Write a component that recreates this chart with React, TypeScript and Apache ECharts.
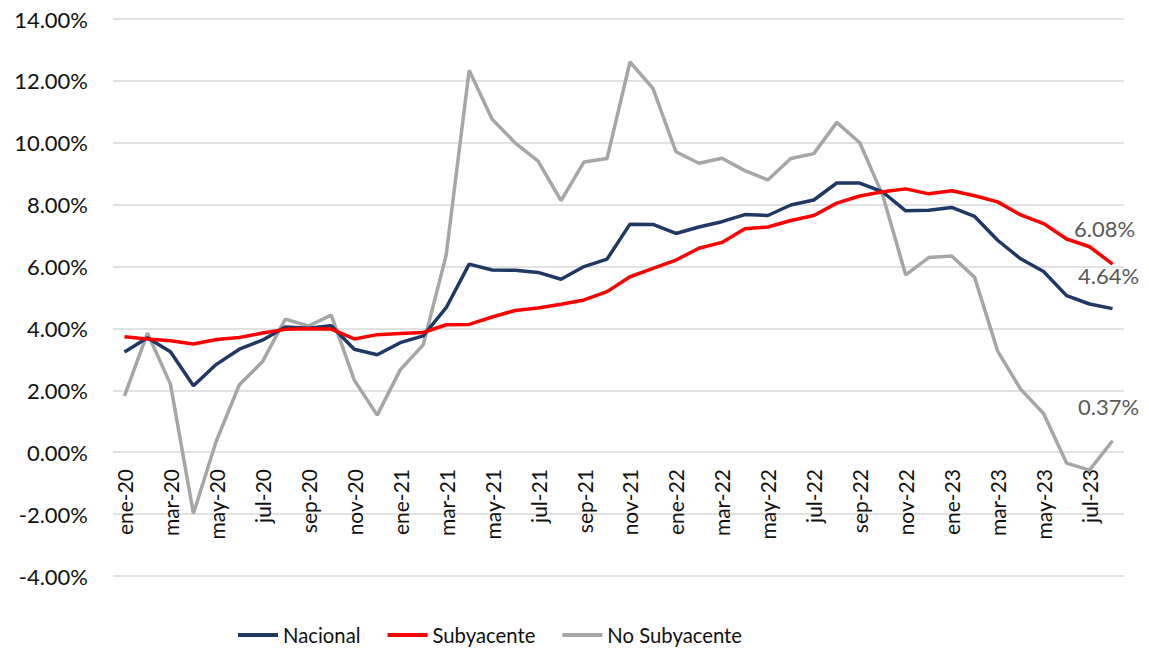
import React, { useEffect, useRef } from "react";
import * as echarts from "echarts";

const MONTHS = ["ene", "feb", "mar", "abr", "may", "jun", "jul", "ago", "sep", "oct", "nov", "dic"];
const categories: string[] = [];
for (let y = 20; y <= 23; y++) {
  for (let m = 0; m < 12; m++) {
    if (y === 23 && m > 7) break;
    categories.push(`${MONTHS[m]}-${y}`);
  }
}

const nacional = [
  3.24, 3.70, 3.25, 2.15, 2.84, 3.33, 3.62, 4.05, 4.01, 4.09, 3.33, 3.15,
  3.54, 3.76, 4.67, 6.08, 5.89, 5.88, 5.81, 5.59, 6.00, 6.24, 7.37, 7.36,
  7.07, 7.28, 7.45, 7.68, 7.65, 7.99, 8.15, 8.70, 8.70, 8.41, 7.80, 7.82,
  7.91, 7.62, 6.85, 6.25, 5.84, 5.06, 4.79, 4.64,
];
const subyacente = [
  3.73, 3.66, 3.60, 3.50, 3.64, 3.71, 3.85, 3.97, 3.99, 3.98, 3.66, 3.80,
  3.84, 3.87, 4.12, 4.13, 4.37, 4.58, 4.66, 4.78, 4.92, 5.19, 5.67, 5.94,
  6.21, 6.59, 6.78, 7.22, 7.28, 7.49, 7.65, 8.05, 8.28, 8.42, 8.51, 8.35,
  8.45, 8.29, 8.09, 7.67, 7.39, 6.89, 6.64, 6.08,
];
const noSubyacente = [
  1.82, 3.85, 2.20, -1.98, 0.37, 2.18, 2.92, 4.30, 4.08, 4.43, 2.33, 1.20,
  2.66, 3.47, 6.37, 12.34, 10.76, 10.00, 9.41, 8.13, 9.38, 9.49, 12.61, 11.76,
  9.71, 9.34, 9.50, 9.10, 8.80, 9.49, 9.65, 10.66, 10.00, 8.30, 5.73, 6.29,
  6.34, 5.65, 3.27, 2.04, 1.25, -0.35, -0.58, 0.37,
];

const FONT = "Lato";

function withEndLabel(values: number[], offset: [number, number]) {
  return values.map((v, i) =>
    i === values.length - 1
      ? {
          value: v,
          symbol: "circle",
          symbolSize: 0,
          label: {
            show: true,
            position: "inside",
            offset,
            formatter: () => `${v.toFixed(2)}%`,
            color: "#595959",
            fontSize: 22,
            fontFamily: FONT,
          },
        }
      : v
  );
}

export default function App() {
  const ref = useRef<HTMLDivElement>(null);
  useEffect(() => {
    document.body.style.margin = "0";
    if (!ref.current) return;
    const chart = echarts.init(ref.current, null, { renderer: "svg" });
    chart.setOption({
      animation: false,
      backgroundColor: "#ffffff",
      grid: {
        left: 113,
        right: 25,
        top: 19,
        bottom: 73,
        containLabel: false,
        outerBoundsMode: "none",
      },
      legend: {
        left: 233,
        top: 620,
        icon: "rect",
        itemWidth: 40,
        itemHeight: 4,
        itemGap: 27,
        textStyle: { fontFamily: FONT, fontSize: 20.3, color: "#111111" },
        data: ["Nacional", "Subyacente", "No Subyacente"],
      },
      xAxis: {
        type: "category",
        data: categories,
        boundaryGap: true,
        axisLine: { show: false, onZero: false },
        axisTick: { show: false },
        axisLabel: {
          interval: 1,
          rotate: 90,
          margin: -107,
          fontFamily: FONT,
          fontSize: 21,
          color: "#111111",
        },
        splitLine: { show: false },
      },
      yAxis: {
        type: "value",
        min: -4,
        max: 14,
        interval: 2,
        axisLine: { show: false },
        axisTick: { show: false },
        axisLabel: {
          formatter: (v: number) => `${v.toFixed(2)}%`,
          fontFamily: FONT,
          fontSize: 22,
          color: "#111111",
          margin: 25,
        },
        splitLine: { lineStyle: { color: "#D9D9D9", width: 1.5 } },
      },
      series: [
        {
          name: "Nacional",
          type: "line",
          data: withEndLabel(nacional, [-4, -33]),
          symbol: "none",
          lineStyle: { color: "#1F3864", width: 3.5 },
          itemStyle: { color: "#1F3864" },
          z: 3,
        },
        {
          name: "Subyacente",
          type: "line",
          data: withEndLabel(subyacente, [-8, -36]),
          symbol: "none",
          lineStyle: { color: "#FF0000", width: 3.5 },
          itemStyle: { color: "#FF0000" },
          z: 4,
        },
        {
          name: "No Subyacente",
          type: "line",
          data: withEndLabel(noSubyacente, [-4, -34]),
          symbol: "none",
          lineStyle: { color: "#A6A6A6", width: 3.5 },
          itemStyle: { color: "#A6A6A6" },
          z: 2,
        },
      ],
    });
    return () => chart.dispose();
  }, []);
  return <div ref={ref} style={{ width: 1149, height: 649 }} />;
}
